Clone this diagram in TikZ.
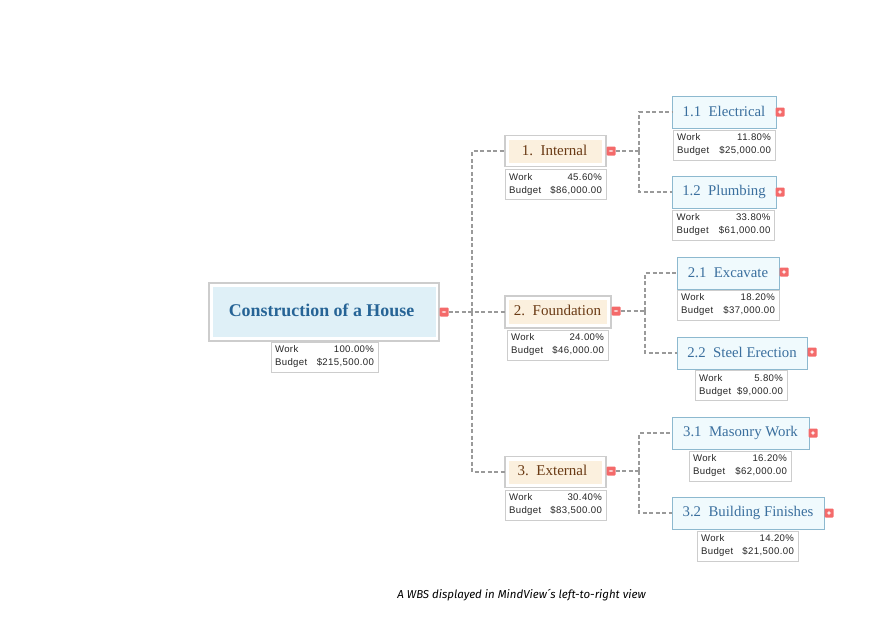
\documentclass[tikz,border=0pt]{standalone}
\usepackage{fontspec}
\setmainfont{Liberation Serif}
\newfontfamily\dataf[LetterSpace=4]{Liberation Sans}
\newfontfamily\capf{Fira Sans}
\definecolor{rootfill}{HTML}{DFF0F7}
\definecolor{rootink}{HTML}{266496}
\definecolor{creamfill}{HTML}{FBF0DE}
\definecolor{brownink}{HTML}{6A3A14}
\definecolor{leaffill}{HTML}{F0FAFD}
\definecolor{leafline}{HTML}{8DB9CF}
\definecolor{leafink}{HTML}{3A6F9E}
\definecolor{greyline}{HTML}{CDCDCD}
\definecolor{conn}{HTML}{9A9A9A}
\definecolor{btnred}{HTML}{F46A6A}
\tikzset{
 x=1pt,y=-1pt,
 every node/.style={inner sep=0pt,outer sep=0pt},
 rootbox/.style={draw=greyline,line width=1.5pt,fill=white},
 rootin/.style={fill=rootfill},
 levelbox/.style={draw=greyline,line width=1.3pt,fill=white},
 levelin/.style={fill=creamfill},
 leafbox/.style={draw=leafline,line width=0.9pt,fill=leaffill,font=\fontsize{14.8}{18}\selectfont,text=leafink},
 databox/.style={draw=greyline,line width=0.9pt,fill=white,minimum height=30pt,text=black!85},
 btnbase/.style={fill=btnred,minimum size=9pt,rounded corners=1pt},
 btnminus/.style={btnbase,path picture={\fill[white] ([xshift=-2.2pt,yshift=-.7pt]path picture bounding box.center) rectangle ([xshift=2.2pt,yshift=.7pt]path picture bounding box.center);}},
 btnplus/.style={btnbase,path picture={\fill[white] ([xshift=-2.2pt,yshift=-.7pt]path picture bounding box.center) rectangle ([xshift=2.2pt,yshift=.7pt]path picture bounding box.center);\fill[white] ([xshift=-.7pt,yshift=-2.2pt]path picture bounding box.center) rectangle ([xshift=.7pt,yshift=2.2pt]path picture bounding box.center);}},
 link/.style={draw=conn,line width=1.5pt,dash pattern=on 4pt off 2.5pt},
 captext/.style={font=\capf\itshape\fontsize{11.5}{14}\selectfont,text=black},
 roottext/.style={font=\fontsize{17.9}{20}\selectfont\bfseries,text=rootink},
 leveltext/.style={font=\fontsize{15}{18}\selectfont,text=brownink}
}
% name, centre x, centre y, width, work, budget
\newcommand{\datatab}[6]{\node[databox,minimum width=#4pt] (#1) at (#2,#3) {\vbox{\fontsize{9.6}{13}\selectfont\dataf\hbox to \dimexpr #4pt-8pt\relax{Work\hfill #5}\hbox to \dimexpr #4pt-8pt\relax{Budget\hfill #6}}};}
\newcommand{\leaftext}[1]{\raisebox{1.3pt}{#1}}
\begin{document}
\begin{tikzpicture}
\useasboundingbox (0,0) rectangle (889,637);
% root
\node[rootbox,minimum width=230pt,minimum height=58pt] (root) at (324,312) {};
\node[rootin,minimum width=223pt,minimum height=50pt] (rootinner) at (324.5,312) {};
\node[roottext] (roott) at (321.5,310) {Construction of a House};
\datatab{rootd}{324.5}{357}{107}{100.00\%}{\$215,500.00}
% level 1
\node[levelbox,minimum width=101pt,minimum height=31pt] (n1) at (555.5,151) {};
\node[levelin,minimum width=93pt,minimum height=23pt] (n1i) at (555.5,151) {};
\node[leveltext] (n1t) at (554.5,150) {1.~~Internal};
\datatab{n1d}{555.5}{184.5}{101}{45.60\%}{\$86,000.00}
\node[levelbox,minimum width=106pt,minimum height=32pt] (n2) at (558,312) {};
\node[levelin,minimum width=98pt,minimum height=24pt] (n2i) at (558,312) {};
\node[leveltext] (n2t) at (557.5,310.5) {2.~~Foundation};
\datatab{n2d}{557.5}{345}{101}{24.00\%}{\$46,000.00}
\node[levelbox,minimum width=101pt,minimum height=31pt] (n3) at (555.5,472) {};
\node[levelin,minimum width=93pt,minimum height=23pt] (n3i) at (555.5,472) {};
\node[leveltext] (n3t) at (552.5,470.5) {3.~~External};
\datatab{n3d}{555.5}{505}{101}{30.40\%}{\$83,500.00}
% leaves
\node[leafbox,minimum width=104pt,minimum height=32pt] (a1) at (724,112) {\leaftext{1.1~~Electrical}};
\datatab{a1d}{724}{145}{102}{11.80\%}{\$25,000.00}
\node[leafbox,minimum width=104pt,minimum height=32pt] (a2) at (724,192) {\leaftext{1.2~~Plumbing}};
\datatab{a2d}{723.5}{225}{102}{33.80\%}{\$61,000.00}
\node[leafbox,minimum width=102pt,minimum height=32pt] (b1) at (728,273) {\leaftext{2.1~~Excavate}};
\datatab{b1d}{728}{305}{102}{18.20\%}{\$37,000.00}
\node[leafbox,minimum width=130pt,minimum height=32pt] (b2) at (742,353) {\leaftext{2.2~~Steel Erection}};
\datatab{b2d}{741}{385.5}{92}{5.80\%}{\$9,000.00}
\node[leafbox,minimum width=137pt,minimum height=32pt] (c1) at (740.5,433) {\leaftext{3.1~~Masonry Work}};
\datatab{c1d}{740}{466}{102}{16.20\%}{\$62,000.00}
\node[leafbox,minimum width=152pt,minimum height=32pt] (c2) at (748,513) {\leaftext{3.2~~Building Finishes}};
\datatab{c2d}{747.5}{546}{101}{14.20\%}{\$21,500.00}
% buttons
\node[btnminus] (rb) at (444,312) {};
\node[btnminus] (n1b) at (611,151) {};
\node[btnminus] (n2b) at (616,311) {};
\node[btnminus] (n3b) at (611,471) {};
\node[btnplus] (a1b) at (780,112) {};
\node[btnplus] (a2b) at (780,192) {};
\node[btnplus] (b1b) at (784,272) {};
\node[btnplus] (b2b) at (812,352) {};
\node[btnplus] (c1b) at (813,433) {};
\node[btnplus] (c2b) at (829,513) {};
% junctions
\coordinate (j0) at (472,312);
\coordinate (j1) at (639,151);
\coordinate (j2) at (645,311);
\coordinate (j3) at (639,471);
% connectors
\draw[link] (rb.east) -- (n2.west);
\draw[link] (j0) |- (n1.west);
\draw[link] (j0) |- (n3.west);
\draw[link] (n1b.east) -- (j1);
\draw[link] (j1) |- (a1.west);
\draw[link] (j1) |- (a2.west);
\draw[link] (n2b.east) -- (j2);
\draw[link] (j2) |- (b1.west);
\draw[link] (j2) |- (b2.west);
\draw[link] (n3b.east) -- (j3);
\draw[link] (j3) |- (c1.west);
\draw[link] (j3) |- (c2.west);
\node[captext] (caption) at (521.5,595) {A WBS displayed in MindView´s left-to-right view};
\end{tikzpicture}
\end{document}
